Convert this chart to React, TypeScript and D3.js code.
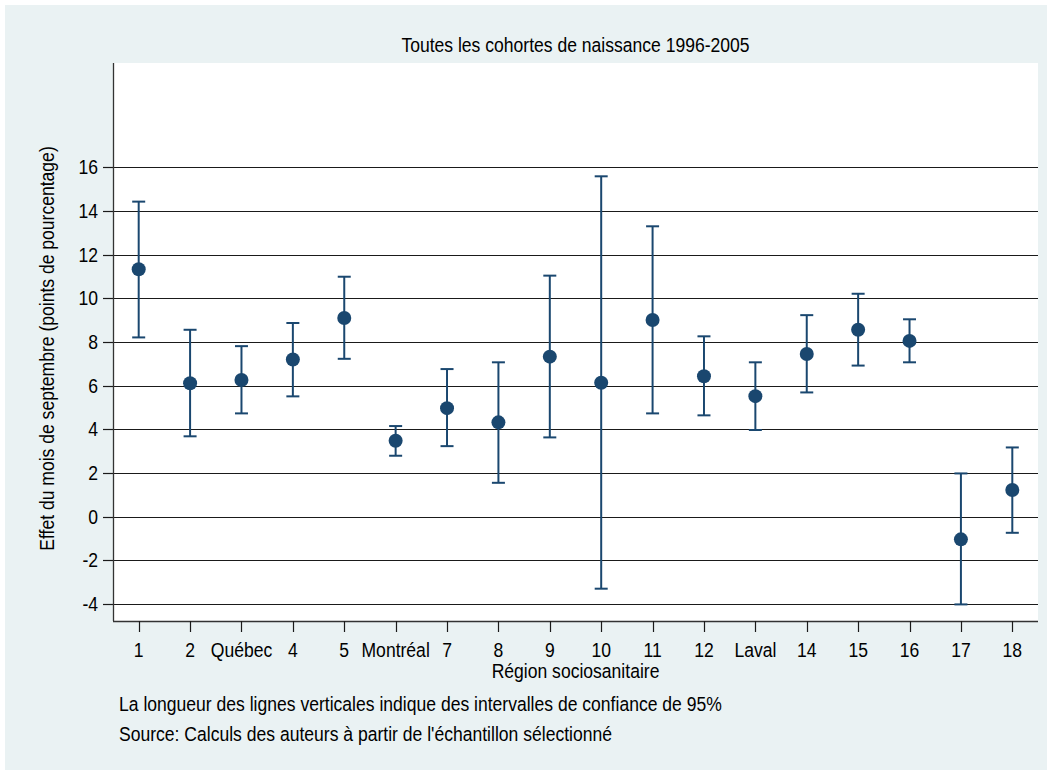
import * as d3 from 'd3';

const regions = ['1', '2', 'Québec', '4', '5', 'Montréal', '7', '8', '9', '10', '11', '12', 'Laval', '14', '15', '16', '17', '18'];
const estimate = [11.33, 6.11, 6.26, 7.2, 9.1, 3.48, 4.97, 4.32, 7.33, 6.13, 9.01, 6.43, 5.52, 7.45, 8.56, 8.05, -1.04, 1.22];
const lower = [8.21, 3.68, 4.73, 5.51, 7.23, 2.79, 3.23, 1.55, 3.63, -3.3, 4.73, 4.64, 3.97, 5.69, 6.92, 7.07, -4.02, -0.74];
const upper = [14.43, 8.56, 7.81, 8.87, 10.99, 4.15, 6.76, 7.07, 11.04, 15.59, 13.3, 8.26, 7.07, 9.23, 10.21, 9.04, 1.98, 3.17];
const yTicks = [-4, -2, 0, 2, 4, 6, 8, 10, 12, 14, 16];

const title = 'Toutes les cohortes de naissance 1996-2005';
const xTitle = 'Région sociosanitaire';
const yTitle = 'Effet du mois de septembre (points de pourcentage)';
const notes = [
  'La longueur des lignes verticales indique des intervalles de confiance de 95%',
  "Source: Calculs des auteurs à partir de l'échantillon sélectionné",
];

const W = 1047;
const H = 770;
const left = 113, right = 1038, top = 63, bottom = 621;
const navy = '#1a476f';
const FS = 19.5;
const SX = 0.9;

// Stata draws Arial a bit narrow and tall, so squeeze horizontally
const Label = ({ x, y, text, anchor = 'start', rotate = 0 }: any) => (
  <text
    transform={`translate(${x},${y}) rotate(${rotate}) scale(${SX},1)`}
    textAnchor={anchor}
    fontSize={FS}
    fill="#000"
  >
    {text}
  </text>
);

export default function App() {
  const x = d3.scaleBand().domain(regions).range([left, right]).padding(0);
  const y = d3.scaleLinear().domain([-4.78, 20.78]).range([bottom, top]);
  const cx = (r: string) => (x(r) as number) + x.bandwidth() / 2;
  const cap = 6.5;

  return (
    <svg
      width={W}
      height={H}
      style={{ position: 'absolute', left: 0, top: 0, fontFamily: '"Liberation Sans", Arial, sans-serif' }}
    >
      <rect x={0} y={0} width={W} height={H} fill="#fff" />
      <rect x={5} y={5} width={W - 5} height={H - 5} fill="#eaf2f3" />
      <rect x={left} y={top} width={right - left} height={bottom - top} fill="#fff" />

      <Label x={(left + right) / 2} y={52} text={title} anchor="middle" />

      {/* gridlines + y axis */}
      {yTicks.map(t => (
        <g key={t}>
          <line x1={left} x2={right} y1={Math.round(y(t)) + 0.5} y2={Math.round(y(t)) + 0.5} stroke="#1a1a1a" strokeWidth={1.2} />
          <line x1={left - 10} x2={left} y1={Math.round(y(t)) + 0.5} y2={Math.round(y(t)) + 0.5} stroke="#1a1a1a" strokeWidth={1.2} />
          <Label x={98} y={y(t) + 7} text={String(t)} anchor="end" />
        </g>
      ))}
      <line x1={left + 0.5} x2={left + 0.5} y1={top} y2={bottom} stroke="#333" strokeWidth={1.3} />
      <line x1={left} x2={right} y1={bottom + 0.5} y2={bottom + 0.5} stroke="#333" strokeWidth={1.3} />

      {/* x axis */}
      {regions.map(r => (
        <g key={r}>
          <line x1={Math.round(cx(r)) + 0.5} x2={Math.round(cx(r)) + 0.5} y1={bottom} y2={bottom + 11} stroke="#1a1a1a" strokeWidth={1.2} />
          <Label x={cx(r)} y={657} text={r} anchor="middle" />
        </g>
      ))}
      <Label x={(left + right) / 2} y={678} text={xTitle} anchor="middle" />
      <Label x={54} y={(152 + 545) / 2} text={yTitle} anchor="middle" rotate={-90} />

      {/* confidence intervals */}
      {regions.map((r, i) => (
        <g key={'ci' + r} stroke={navy} strokeWidth={2}>
          <line x1={cx(r)} x2={cx(r)} y1={y(lower[i])} y2={y(upper[i])} />
          <line x1={cx(r) - cap} x2={cx(r) + cap} y1={y(upper[i])} y2={y(upper[i])} />
          <line x1={cx(r) - cap} x2={cx(r) + cap} y1={y(lower[i])} y2={y(lower[i])} />
        </g>
      ))}
      {regions.map((r, i) => (
        <circle key={'pt' + r} cx={cx(r)} cy={y(estimate[i])} r={7} fill={navy} />
      ))}

      {notes.map((n, i) => (
        <Label key={i} x={119} y={711 + i * 30} text={n} />
      ))}
    </svg>
  );
}
